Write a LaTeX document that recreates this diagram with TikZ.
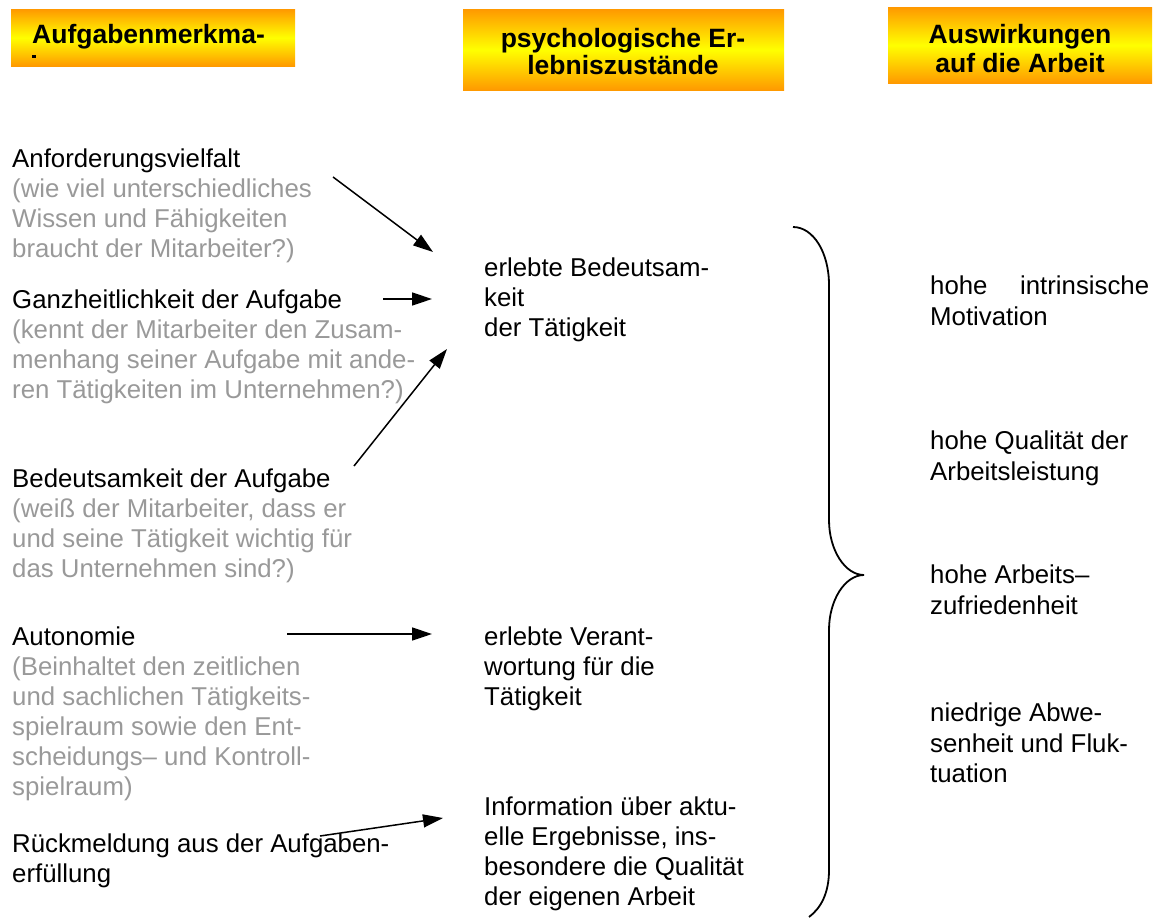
\documentclass[tikz,border=0pt]{standalone}
\usepackage{fontspec}
\setmainfont{Liberation Sans}
\usetikzlibrary{arrows.meta}
\definecolor{orng}{RGB}{255,153,0}
\definecolor{ylw}{RGB}{255,255,0}
\definecolor{gtxt}{RGB}{153,153,153}
\tikzset{
  hbox/.style={draw=none, anchor=north west, inner sep=0pt, top color=orng, bottom color=orng, middle color=ylw},
  htext/.style={inner sep=0pt, align=center, font=\bfseries\fontsize{26.5}{29}\selectfont},
  body/.style={anchor=north west, inner sep=0pt, align=left, font=\fontsize{25.8}{30}\selectfont},
  rbody/.style={anchor=north west, inner sep=0pt, align=left, font=\fontsize{25.8}{30.5}\selectfont},
  desc/.style={body, text=gtxt},
  arr/.style={-{Triangle[length=20pt,width=13pt]}, line width=1.5pt},
  brace/.style={line width=1.8pt}
}
\begin{document}
\begin{tikzpicture}[x=1pt,y=-1pt]
\useasboundingbox (0,0) rectangle (1153,918);
% headers
\node[hbox, minimum width=284pt, minimum height=57pt] (h1) at (11,9) {};
\node[htext, anchor=base west] (h1t) at (32,43) {Aufgabenmerkma-};
\fill (32,55) rectangle (36,58);
\node[hbox, minimum width=321pt, minimum height=81pt] (h2) at (463,9) {};
\node[htext, anchor=base] (h2t) at (623,74) {psychologische Er-\\[-2.7pt]lebniszustände};
\node[hbox, minimum width=264pt, minimum height=76pt] (h3) at (888,7) {};
\node[htext, anchor=base] (h3t) at (1020,72) {Auswirkungen\\auf die Arbeit};
% left column (top = baseline - 21)
\node[body] (a1) at (12,146) {\strut Anforderungsvielfalt};
\node[desc] (a1d) at (12,176) {\strut (wie viel unterschiedliches\\Wissen und Fähigkeiten\\braucht der Mitarbeiter?)};
\node[body] (a2) at (12,287) {\strut Ganzheitlichkeit der Aufgabe};
\node[desc] (a2d) at (12,317) {\strut (kennt der Mitarbeiter den Zusam-\\menhang seiner Aufgabe mit ande-\\ren Tätigkeiten im Unternehmen?)};
\node[body] (a3) at (12,466) {\strut Bedeutsamkeit der Aufgabe};
\node[desc] (a3d) at (12,496) {\strut (weiß der Mitarbeiter, dass er\\und seine Tätigkeit wichtig für\\das Unternehmen sind?)};
\node[body] (a4) at (12,624) {\strut Autonomie};
\node[desc] (a4d) at (12,654) {\strut (Beinhaltet den zeitlichen\\und sachlichen Tätigkeits-\\spielraum sowie den Ent-\\scheidungs– und Kontroll-\\spielraum)};
\node[body] (a5) at (12,831) {\strut Rückmeldung aus der Aufgaben-\\erfüllung};
% middle column
\node[body] (m1) at (484,255) {\strut erlebte Bedeutsam-\\keit\\der Tätigkeit};
\node[body] (m2) at (484,624) {\strut erlebte Verant-\\wortung für die\\Tätigkeit};
\node[body] (m3) at (484,794) {\strut Information über aktu-\\elle Ergebnisse, ins-\\besondere die Qualität\\der eigenen Arbeit};
% right column
\node[rbody] (r1) at (930,273) {\strut\makebox[219pt][s]{hohe\hfill intrinsische}\\Motivation};
\node[rbody] (r2) at (930,428) {\strut hohe Qualität der\\Arbeitsleistung};
\node[rbody] (r3) at (930,562) {\strut hohe Arbeits–\\zufriedenheit};
\node[rbody] (r4) at (930,700) {\strut niedrige Abwe-\\senheit und Fluk-\\tuation};
% arrows
\coordinate (s1) at (333,177); \coordinate (e1) at (433,252);
\coordinate (s2) at (383,299); \coordinate (e2) at (432,299);
\coordinate (s3) at (354,466); \coordinate (e3) at (447,349);
\coordinate (s4) at (287,634); \coordinate (e4) at (432,634);
\coordinate (s5) at (320,836); \coordinate (e5) at (443,818);
\draw[arr] (s1) -- (e1);
\draw[arr] (s2) -- (e2);
\draw[arr] (s3) -- (e3);
\draw[arr] (s4) -- (e4);
\draw[arr] (s5) -- (e5);
% brace
\coordinate (bt) at (793,227);
\coordinate (bk) at (864,575);
\coordinate (bb) at (809,917);
\draw[brace] (bt) .. controls (813,227) and (829,252) .. (829,285)
  -- (829,520) .. controls (829,550) and (845,575) .. (bk)
  .. controls (845,575) and (829,600) .. (829,630)
  -- (829,870) .. controls (829,893) and (821,908) .. (bb);
\end{tikzpicture}
\end{document}
